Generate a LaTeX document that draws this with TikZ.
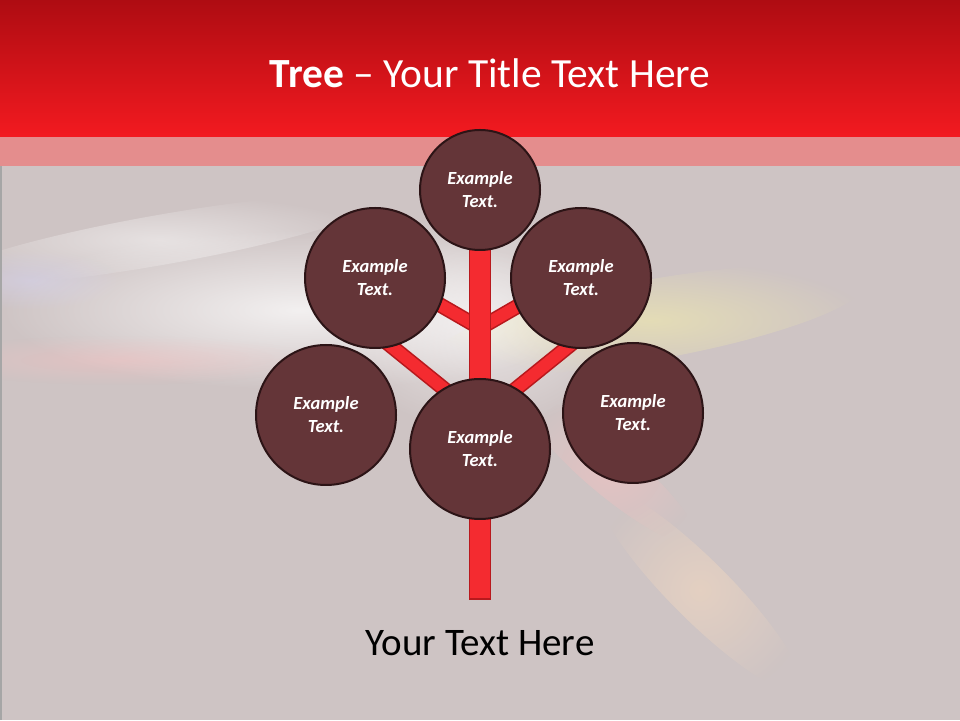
\documentclass[tikz,border=0pt]{standalone}
\usepackage{fontspec}
\setmainfont{Carlito}
\usepackage{tikz}
\usetikzlibrary{positioning,calc,fadings}
\usepackage{xcolor}

\definecolor{bgrose}{HTML}{CEC4C4}
\definecolor{bandpink}{HTML}{E48D8D}
\definecolor{headtop}{HTML}{AE0C12}
\definecolor{headbot}{HTML}{F31A20}
\definecolor{leaffill}{HTML}{643538}
\definecolor{leafedge}{HTML}{2C1416}
\definecolor{treered}{HTML}{F42B30}
\definecolor{treeedge}{HTML}{B8191D}

\tikzfading[name=glow, inner color=transparent!0, outer color=transparent!100]

\begin{document}
\begin{tikzpicture}[
    x=1pt, y=1pt,
    leaf/.style={circle, draw=leafedge, line width=2pt, fill=leaffill, minimum size=140pt, inner sep=0pt, align=center, text=white, font=\fontsize{18.5}{23}\selectfont\bfseries\itshape},
    trunkbar/.style={rectangle, draw=treeedge, line width=1.6pt, fill=treered, minimum width=21pt, minimum height=360pt, inner sep=0pt},
    branch/.style={draw=treeedge, line width=1.6pt, double=treered, double distance=12pt},
    glowspot/.style={path fading=glow, fill=#1}
  ]
    % backdrop
    \fill[bgrose] (0,0) rectangle (960,720);
    \useasboundingbox (0,0) rectangle (960,720);
    \fill[glowspot=white, opacity=.75] (300,410) ellipse [x radius=300, y radius=80];
    \fill[glowspot=white, opacity=.5, rotate around={10:(160,480)}] (160,480) ellipse [x radius=220, y radius=25];
    \fill[glowspot=white, opacity=.6] (480,400) ellipse [x radius=150, y radius=110];
    \fill[glowspot=blue!15, opacity=.4] (30,440) ellipse [x radius=90, y radius=30];
    \fill[glowspot=red!25, opacity=.4] (120,360) ellipse [x radius=200, y radius=25];
    \fill[glowspot=yellow!35, opacity=.45, rotate around={10:(650,400)}] (650,400) ellipse [x radius=220, y radius=40];
    \fill[glowspot=orange!25, opacity=.45, rotate around={-45:(700,130)}] (700,130) ellipse [x radius=140, y radius=30];
    \fill[glowspot=red!25, opacity=.45, rotate around={-40:(610,250)}] (610,250) ellipse [x radius=110, y radius=25];
    \draw[gray!70, line width=1.5pt] (0.75,0) -- (0.75,583);
    \fill[bandpink] (0,554) rectangle (960,583);
    \shade[top color=headtop, bottom color=headbot] (0,583) rectangle (960,720);
    \node[text=white, font=\fontsize{41.5}{48}\selectfont, anchor=base] (title) at (490,632) {\textbf{Tree} -- Your Title Text Here};

    % tree
    \coordinate (forkhi) at (480,392);
    \coordinate (forklo) at (480,302);
    \coordinate (ulend) at ($(forkhi)+(150:115)$);
    \coordinate (urend) at ($(forkhi)+(30:115)$);
    \coordinate (llend) at ($(forklo)+(141:130)$);
    \coordinate (lrend) at ($(forklo)+(39:130)$);
    \draw[branch] (forkhi) -- (ulend);
    \draw[branch] (forkhi) -- (urend);
    \draw[branch] (forklo) -- (llend);
    \draw[branch] (forklo) -- (lrend);
    \node[trunkbar, anchor=south] (trunk) at (480,120) {};

    \node[leaf, minimum size=120pt] (crown) at (480,530) {Example\\Text.};
    \node[leaf] (upleft) at (375,442) {Example\\Text.};
    \node[leaf] (upright) at (581,442) {Example\\Text.};
    \node[leaf] (lowleft) at (326,305) {Example\\Text.};
    \node[leaf] (lowright) at (633,307) {Example\\Text.};
    \node[leaf] (stem) at (480,271) {Example\\Text.};

    \node[font=\fontsize{39}{45}\selectfont, anchor=base] (caption) at (480,65) {Your Text Here};
  \end{tikzpicture}
\end{document}
